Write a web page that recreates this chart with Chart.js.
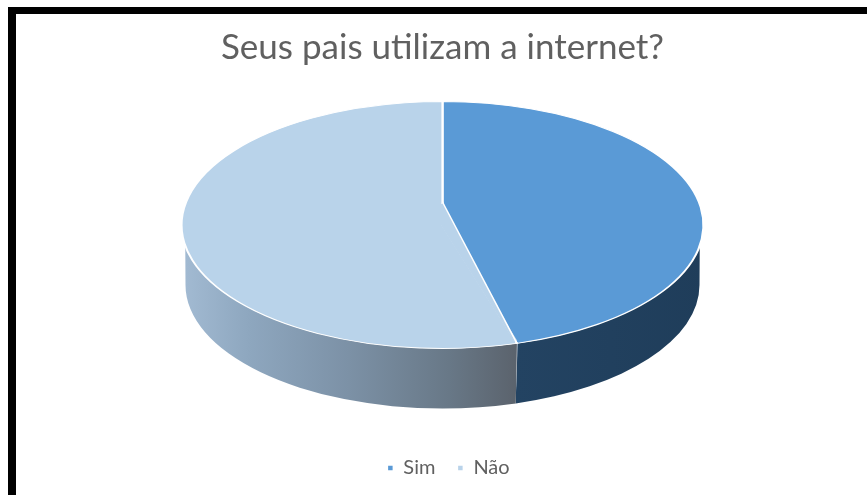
<!DOCTYPE html>
<html>
<head>
<meta charset="utf-8">
<title>Seus pais utilizam a internet?</title>
<script src="https://cdn.jsdelivr.net/npm/chart.js@4/dist/chart.umd.min.js"></script>
<style>
  html, body { margin: 0; padding: 0; background: #fff; overflow: hidden; }
  #frame { position: absolute; left: 8px; top: 7px; width: 859px; height: 488px;
           border-left: 8px solid #000; border-top: 7px solid #000; overflow: hidden; }
  canvas { display: block; }
</style>
</head>
<body>
<div id="frame"><canvas id="chart" width="853" height="481"></canvas></div>
<script>
const CATEGORIES = ["Sim", "Não"]
const VALUES = [45.4, 54.6]
const COLORS = ["#5a9ad6", "#b9d3ea"]

// Chart.js has no 3D pie: squash the flat pie into an ellipse and draw the rim underneath.
// apexLift: in the perspective view the slices meet above the middle of the ellipse.
const PIE = { centerY: 211, radiusX: 261, radiusY: 123.5, depth: 60, rimInset: 4, rimTrim: 0.17, apexLift: 23 }
const LEGEND_SHIFT = 6

function rimFill(ctx, index) {
  if (index === 0) {
    const g = ctx.createLinearGradient(500, 0, 690, 0)
    g.addColorStop(0, "#234362")
    g.addColorStop(1, "#1f3d5a")
    return g
  }
  const g = ctx.createLinearGradient(165, 0, 500, 0)
  g.addColorStop(0, "#a3bbd3")
  g.addColorStop(0.2, "#8ea7bf")
  g.addColorStop(0.5, "#7c91a6")
  g.addColorStop(0.8, "#687887")
  g.addColorStop(1, "#5b636d")
  return g
}

const pie3d = {
  id: "pie3d",
  afterLayout(chart) {
    // the legend sits a little right of the title in the original
    chart.legend.left += LEGEND_SHIFT
    chart.legend.right += LEGEND_SHIFT
  },
  beforeDatasetsDraw(chart) {
    const ctx = chart.ctx
    const arcs = chart.getDatasetMeta(0).data
    const cx = arcs[0].x
    ctx.save()
    arcs.forEach((arc, i) => {
      // only the part of the slice facing the viewer shows a rim
      const from = Math.max(arc.startAngle, 0)
      const to = Math.min(arc.endAngle, Math.PI)
      if (to <= from) return
      ctx.beginPath()
      ctx.ellipse(cx, PIE.centerY, PIE.radiusX, PIE.radiusY, 0,
        Math.max(from, PIE.rimTrim), Math.min(to, Math.PI - PIE.rimTrim))
      ctx.ellipse(cx, PIE.centerY + PIE.depth, PIE.radiusX - PIE.rimInset, PIE.radiusY, 0, to, from, true)
      ctx.closePath()
      ctx.fillStyle = rimFill(ctx, i)
      ctx.fill()
      // seam between the two slices
      if (i === 0) {
        const x = cx + PIE.radiusX * Math.cos(to)
        const y = PIE.centerY + PIE.radiusY * Math.sin(to)
        ctx.strokeStyle = "#d5dde5"
        ctx.lineWidth = 1.5
        ctx.beginPath()
        ctx.moveTo(x, y)
        ctx.lineTo(x - 2, y + PIE.depth)
        ctx.stroke()
      }
    })
    ctx.restore()

    const r = arcs[0].outerRadius
    ctx.save()
    ctx.translate(cx, PIE.centerY)
    ctx.scale(PIE.radiusX / r, PIE.radiusY / r)
    ctx.translate(-cx, -arcs[0].y)
  },
  afterDatasetsDraw(chart) {
    const ctx = chart.ctx
    ctx.restore()

    // move the point where the slices meet up to the perspective apex
    const arcs = chart.getDatasetMeta(0).data
    const cx = arcs[0].x
    const end = arcs[0].endAngle
    const ex = cx + PIE.radiusX * Math.cos(end)
    const ey = PIE.centerY + PIE.radiusY * Math.sin(end)
    const apexY = PIE.centerY - PIE.apexLift
    ctx.save()
    ctx.lineJoin = "round"
    ctx.fillStyle = COLORS[1]
    ctx.strokeStyle = COLORS[1]
    ctx.lineWidth = 3
    ctx.beginPath()
    ctx.moveTo(cx, apexY)
    ctx.lineTo(cx, PIE.centerY)
    ctx.lineTo(ex, ey - 1)
    ctx.closePath()
    ctx.fill()
    ctx.beginPath()
    ctx.moveTo(cx, apexY + 2)
    ctx.lineTo(cx, PIE.centerY)
    ctx.lineTo(ex - 1, ey - 2)
    ctx.stroke()
    ctx.strokeStyle = "#ffffff"
    ctx.lineWidth = 1.5
    ctx.beginPath()
    ctx.moveTo(cx, apexY)
    ctx.lineTo(ex, ey)
    ctx.stroke()
    ctx.restore()
  }
}

new Chart(document.getElementById("chart"), {
  type: "pie",
  data: {
    labels: CATEGORIES,
    datasets: [{
      data: VALUES,
      backgroundColor: COLORS,
      borderColor: "#ffffff",
      borderWidth: 1.5,
      clip: false
    }]
  },
  options: {
    responsive: false,
    animation: false,
    devicePixelRatio: 1,
    layout: { padding: { bottom: 7 } },
    plugins: {
      tooltip: { enabled: false },
      title: {
        display: true,
        text: "Seus pais utilizam a internet?",
        color: "#606060",
        font: { family: "Lato", size: 35, weight: "normal" },
        padding: { top: 13, bottom: 8 }
      },
      legend: {
        position: "bottom",
        labels: {
          usePointStyle: true,
          pointStyle: "rect",
          boxWidth: 6,
          boxHeight: 6,
          padding: 22,
          color: "#606060",
          font: { family: "Lato", size: 20 }
        }
      }
    }
  },
  plugins: [pie3d]
})
</script>
</body>
</html>
